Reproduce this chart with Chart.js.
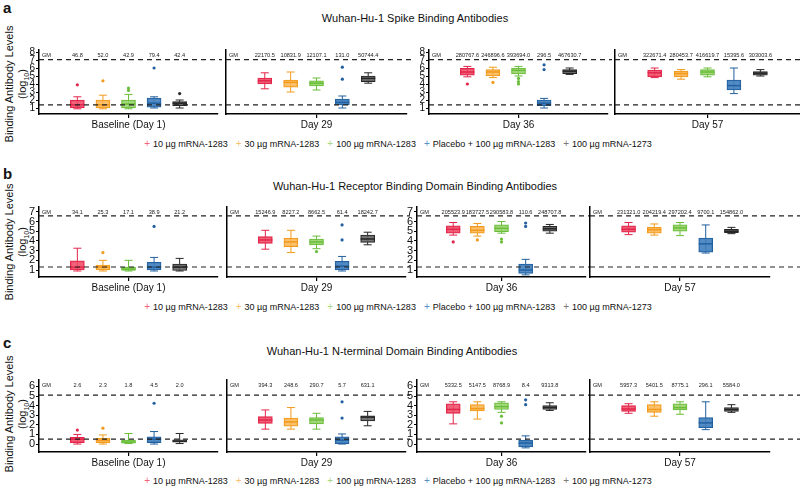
<!DOCTYPE html>
<html>
<head>
<meta charset="utf-8">
<script src="https://cdn.jsdelivr.net/npm/chart.js"></script>
<style>
  body { margin: 0; background: #fff; width: 800px; height: 486px; position: relative; overflow: hidden;
         font-family: "Liberation Sans", Arial, sans-serif; color: #111; }
  canvas { position: absolute; }
  .letter { position: absolute; left: 3px; font-weight: bold; font-size: 15px; line-height: 16px; }
  .title { position: absolute; font-size: 11px; white-space: nowrap; transform: translate(-50%, -50%); }
  .ytitle { position: absolute; width: 120px; height: 26px; left: -44px; font-size: 11px; line-height: 13px;
            text-align: center; transform: rotate(-90deg); white-space: nowrap; }
  .ytitle sub { font-size: 7px; }
  .legend { position: absolute; left: 0; width: 796px; text-align: center; font-size: 9px; white-space: nowrap; transform: translateY(-50%); }
  .legend span.item { margin: 0 4px; }
  .legend span.mk { font-size: 10px; margin-right: 3px; }
</style>
</head>
<body>
<script>
const groups = ['10 µg mRNA-1283', '30 µg mRNA-1283', '100 µg mRNA-1283', 'Placebo + 100 µg mRNA-1283', '100 µg mRNA-1273'];
const visits = ['Baseline (Day 1)', 'Day 29', 'Day 36', 'Day 57'];
const panelTitles = ['Wuhan-Hu-1 Spike Binding Antibodies', 'Wuhan-Hu-1 Receptor Binding Domain Binding Antibodies', 'Wuhan-Hu-1 N-terminal Domain Binding Antibodies'];
const panelLetters = ['a', 'b', 'c'];

// log10 levels, [min, q1, median, q3, max] for each group, one row per visit
const spikeBoxes = [
  [[0.9, 1.0, 1.4, 2.0, 2.4], [0.9, 1.0, 1.4, 2.0, 2.6], [0.9, 1.0, 1.5, 2.0, 2.7], [1.0, 1.1, 1.6, 2.25, 2.4], [1.0, 1.3, 1.6, 1.8, 2.0]],
  [[3.4, 4.0, 4.4, 4.75, 5.4], [3.0, 3.6, 4.2, 4.5, 5.5], [3.25, 3.75, 4.1, 4.4, 4.75], [1.0, 1.4, 1.7, 2.1, 2.5], [4.1, 4.3, 4.7, 5.0, 5.4]],
  [[4.9, 5.1, 5.5, 5.95, 6.2], [4.8, 5.0, 5.5, 5.8, 6.1], [5.0, 5.25, 5.7, 6.0, 6.2], [1.0, 1.3, 1.6, 2.0, 2.2], [5.2, 5.3, 5.6, 5.8, 6.0]],
  [[4.8, 4.9, 5.4, 5.75, 6.0], [4.6, 4.9, 5.3, 5.6, 5.8], [4.9, 5.1, 5.5, 5.8, 6.0], [2.8, 3.25, 3.8, 4.5, 6.0], [5.0, 5.1, 5.35, 5.55, 5.8]]
];
const spikeOutliers = [
  [[3.9], [4.4], [3.5, 3.2], [6.0], [2.8]],
  [[], [], [], [6.1, 4.6], []],
  [[4.0], [4.2], [4.7, 4.3, 4.0], [6.4, 5.8], []],
  [[], [], [], [], []]
];
const spikeGM = [
  [46.8, 52.0, 42.9, 79.4, 42.4],
  [22170.5, 10831.9, 12107.1, 131.0, 50744.4],
  [280767.6, 246896.6, 393694.0, 296.5, 467630.7],
  [322671.4, 280453.7, 416619.7, 15395.6, 303003.6]
];
const spikeLimits = [1.4, 7.05];
const spikeTicks = [1, 2, 3, 4, 5, 6, 7, 8];

const rbdBoxes = [
  [[0.9, 1.0, 1.3, 1.95, 3.25], [0.9, 1.0, 1.3, 1.5, 2.0], [0.9, 0.95, 1.1, 1.3, 2.0], [0.9, 1.0, 1.3, 1.8, 2.3], [0.9, 0.95, 1.3, 1.6, 2.2]],
  [[3.15, 3.75, 4.1, 4.45, 5.1], [2.8, 3.4, 3.9, 4.3, 5.1], [3.2, 3.6, 3.9, 4.2, 4.5], [0.9, 1.0, 1.4, 1.9, 2.4], [3.6, 3.85, 4.2, 4.6, 4.9]],
  [[4.6, 4.8, 5.2, 5.55, 5.9], [4.5, 4.8, 5.1, 5.5, 5.8], [4.8, 4.95, 5.3, 5.65, 6.0], [0.5, 0.65, 1.0, 1.6, 2.1], [4.8, 5.0, 5.25, 5.5, 5.7]],
  [[4.65, 4.9, 5.2, 5.55, 5.9], [4.6, 4.8, 5.15, 5.4, 5.75], [4.55, 5.0, 5.35, 5.65, 5.9], [2.75, 2.85, 3.7, 4.3, 5.65], [4.75, 4.85, 5.0, 5.2, 5.4]]
];
const rbdOutliers = [
  [[], [2.8], [], [5.5], []],
  [[], [], [2.9], [5.65, 4.1], []],
  [[3.9], [4.1], [4.2, 3.9], [5.85, 5.5], []],
  [[], [], [], [], []]
];
const rbdGM = [
  [34.1, 25.3, 17.1, 38.9, 21.2],
  [15246.9, 8227.2, 8662.5, 61.4, 18242.7],
  [205523.9, 183727.5, 290583.8, 110.6, 248707.8],
  [231321.0, 204219.4, 297202.4, 9700.1, 154862.0]
];
const rbdLimits = [1.31, 6.58];
const rbdTicks = [1, 2, 3, 4, 5, 6, 7];

const ntdBoxes = [
  [[0.0, 0.14, 0.5, 0.7, 1.0], [0.0, 0.15, 0.4, 0.6, 0.95], [0.05, 0.1, 0.2, 0.4, 1.1], [0.0, 0.15, 0.5, 0.75, 1.3], [0.05, 0.2, 0.3, 0.45, 1.1]],
  [[1.55, 2.15, 2.5, 2.85, 3.55], [1.55, 1.85, 2.3, 2.7, 3.8], [1.55, 2.1, 2.5, 2.75, 3.2], [0.0, 0.05, 0.4, 0.75, 1.05], [1.9, 2.4, 2.8, 2.95, 3.4]],
  [[2.1, 3.2, 3.6, 4.2, 4.4], [2.6, 3.45, 3.7, 4.1, 4.4], [3.3, 3.6, 3.9, 4.3, 4.4], [-0.4, -0.3, 0.1, 0.4, 0.85], [3.5, 3.6, 3.8, 4.0, 4.3]],
  [[3.2, 3.4, 3.65, 4.0, 4.2], [2.9, 3.3, 3.6, 4.1, 4.4], [3.1, 3.55, 3.8, 4.2, 4.4], [1.5, 1.7, 2.2, 2.75, 4.4], [3.3, 3.4, 3.6, 3.8, 4.1]]
];
const ntdOutliers = [
  [[1.45], [1.65], [], [4.25], []],
  [[], [], [], [4.4, 2.7], []],
  [[], [], [2.9, 2.2], [4.6, 4.1], []],
  [[], [], [], [], []]
];
const ntdGM = [
  [2.6, 2.3, 1.8, 4.5, 2.0],
  [394.3, 248.6, 290.7, 5.7, 631.1],
  [5332.5, 5147.5, 8768.9, 8.4, 9313.8],
  [5957.3, 5401.5, 8775.1, 296.1, 5584.0]
];
const ntdLimits = [0.52, 5.1];
const ntdTicks = [0, 1, 2, 3, 4, 5, 6];

const groupLine = ['#e2264b', '#f29a1c', '#69bd3a', '#22609f', '#262626'];
const groupFill = ['rgba(238,72,100,0.85)', 'rgba(250,182,84,0.85)', 'rgba(152,210,104,0.85)', 'rgba(64,128,190,0.9)', 'rgba(105,105,105,0.9)'];

const rowData = [
  { boxes: spikeBoxes, outliers: spikeOutliers, gm: spikeGM, limits: spikeLimits, ticks: spikeTicks },
  { boxes: rbdBoxes, outliers: rbdOutliers, gm: rbdGM, limits: rbdLimits, ticks: rbdTicks },
  { boxes: ntdBoxes, outliers: ntdOutliers, gm: ntdGM, limits: ntdLimits, ticks: ntdTicks }
];

// page layout (pixels)
const rowLayout = [
  { top: 50, bottom: 114, yMin: 0.25, yMax: 8.25, letterY: 0, titleY: 18, titleX: 415, legendY: 143, yTitleY: 84, tickSize: 10,
    facets: [[39, 222], [226, 411], [429, 612], [615, 800]], extendRight: 0 },
  { top: 207, bottom: 277, yMin: 0.28, yMax: 7.5, letterY: 166, titleY: 186, titleX: 415, legendY: 306, yTitleY: 242, tickSize: 11,
    facets: [[39, 222], [227, 410], [417, 590], [590, 770]], extendRight: 30 },
  { top: 380, bottom: 452, yMin: -0.83, yMax: 6.67, letterY: 335, titleY: 351, titleX: 392, legendY: 480, yTitleY: 414, tickSize: 11,
    facets: [[39, 222], [227, 410], [417, 590], [590, 770]], extendRight: 30 }
];

Chart.defaults.font.family = '"Liberation Sans", Arial, sans-serif';
Chart.defaults.color = '#111';

const boxExtras = {
  id: 'boxExtras',
  beforeDatasetsDraw(chart, args, opts) {
    const { ctx, scales: { x, y } } = chart;
    ctx.save();
    ctx.lineWidth = 1;
    opts.boxes.forEach((b, i) => {
      const px = x.getPixelForValue(i + 1);
      ctx.strokeStyle = groupLine[i];
      ctx.beginPath();
      ctx.moveTo(px, y.getPixelForValue(b[0]));
      ctx.lineTo(px, y.getPixelForValue(b[4]));
      ctx.stroke();
      [b[0], b[4]].forEach(v => {
        const py = y.getPixelForValue(v);
        ctx.beginPath();
        ctx.moveTo(px - 4, py);
        ctx.lineTo(px + 4, py);
        ctx.stroke();
      });
    });
    ctx.restore();
  },
  afterDatasetsDraw(chart, args, opts) {
    const { ctx, chartArea, scales: { x, y } } = chart;
    ctx.save();
    // medians
    const bars = chart.getDatasetMeta(0).data;
    opts.boxes.forEach((b, i) => {
      const px = x.getPixelForValue(i + 1);
      const hw = bars[i + 1].width / 2;
      const py = y.getPixelForValue(b[2]);
      ctx.strokeStyle = groupLine[i];
      ctx.lineWidth = 1.5;
      ctx.beginPath();
      ctx.moveTo(px - hw, py);
      ctx.lineTo(px + hw, py);
      ctx.stroke();
    });
    // LLOQ / ULOQ dashed lines
    ctx.strokeStyle = '#222';
    ctx.lineWidth = 1.2;
    ctx.setLineDash([5, 4]);
    opts.limits.forEach(v => {
      const py = y.getPixelForValue(v);
      ctx.beginPath();
      ctx.moveTo(chartArea.left, py);
      ctx.lineTo(chart.width, py);
      ctx.stroke();
    });
    ctx.setLineDash([]);
    // GM row
    ctx.fillStyle = '#222';
    ctx.font = '5.6px "Liberation Sans", Arial, sans-serif';
    ctx.textBaseline = 'middle';
    const ty = chartArea.top + 5;
    ctx.textAlign = 'left';
    ctx.fillText('GM', chartArea.left + 3, ty);
    ctx.textAlign = 'center';
    opts.gm.forEach((g, i) => ctx.fillText(g.toFixed(1), x.getPixelForValue(i + 1), ty));
    ctx.restore();
  }
};

function addDiv(cls, html, style) {
  const d = document.createElement('div');
  d.className = cls;
  d.innerHTML = html;
  Object.assign(d.style, style);
  document.body.appendChild(d);
  return d;
}

function drawFacet(r, f) {
  const L = rowLayout[r];
  const D = rowData[r];
  const [fl, fr] = L.facets[f];
  const extra = f === 3 ? L.extendRight : 0;
  const padTop = 8, yW = 18, xH = 20;
  const canvas = document.createElement('canvas');
  canvas.width = yW + (fr - fl) + extra;
  canvas.height = padTop + (L.bottom - L.top) + xH;
  canvas.style.left = (fl - yW) + 'px';
  canvas.style.top = (L.top - padTop) + 'px';
  document.body.appendChild(canvas);

  const boxes = D.boxes[f];
  const labels = ['GM', ...groups, ' '];
  const showY = f % 2 === 0;

  const datasets = [{
    type: 'bar',
    data: [null, ...boxes.map(b => [b[1], b[3]]), null],
    backgroundColor: ['rgba(0,0,0,0)', ...groupFill, 'rgba(0,0,0,0)'],
    borderColor: ['rgba(0,0,0,0)', ...groupLine, 'rgba(0,0,0,0)'],
    borderWidth: 1,
    borderSkipped: false,
    barThickness: 14,
    grouped: false,
    order: 2
  }];
  groups.forEach((g, i) => {
    datasets.push({
      type: 'scatter',
      data: D.outliers[f][i].map(v => ({ x: g, y: v })),
      backgroundColor: groupLine[i],
      borderColor: groupLine[i],
      pointRadius: 1.6,
      borderWidth: 0,
      order: 1
    });
  });

  new Chart(canvas, {
    type: 'bar',
    data: { labels: labels, datasets: datasets },
    options: {
      responsive: false,
      animation: false,
      layout: { padding: { top: padTop, right: extra, left: 0, bottom: 0 } },
      plugins: {
        legend: { display: false },
        tooltip: { enabled: false },
        boxExtras: { boxes: boxes, gm: D.gm[f], limits: D.limits }
      },
      scales: {
        x: {
          type: 'category',
          offset: true,
          grid: {
            display: true, drawOnChartArea: false, drawTicks: true, tickLength: 4, offset: false,
            color: c => c.index === 3 ? '#000' : 'rgba(0,0,0,0)', lineWidth: 1.2
          },
          border: { display: true, color: '#000', width: 1.5 },
          ticks: { display: false },
          title: { display: true, text: visits[f], font: { size: 10 }, color: '#111', padding: { top: 0, bottom: 3 } },
          afterFit: s => { s.height = xH; }
        },
        y: {
          min: L.yMin,
          max: L.yMax,
          afterBuildTicks: s => { s.ticks = D.ticks.map(v => ({ value: v })); },
          ticks: { display: showY, autoSkip: false, font: { size: L.tickSize }, color: '#111', padding: 1 },
          grid: { display: showY, drawOnChartArea: false, tickLength: 3, color: '#000' },
          border: { display: true, color: '#000', width: 1.5 },
          afterFit: s => { s.width = yW; }
        }
      }
    },
    plugins: [boxExtras]
  });
}

rowLayout.forEach((L, r) => {
  addDiv('letter', panelLetters[r], { top: L.letterY + 'px' });
  addDiv('title', panelTitles[r], { left: L.titleX + 'px', top: L.titleY + 'px' });
  addDiv('ytitle', 'Binding Antibody Levels<br>(log<sub>10</sub>)', { top: (L.yTitleY - 13) + 'px' });
  const items = groups.map((g, i) =>
    '<span class="item"><span class="mk" style="color:' + groupFill[i] + '">+</span>' + g + '</span>').join('');
  addDiv('legend', items, { top: L.legendY + 'px' });
  visits.forEach((v, f) => drawFacet(r, f));
});
</script>
</body>
</html>
